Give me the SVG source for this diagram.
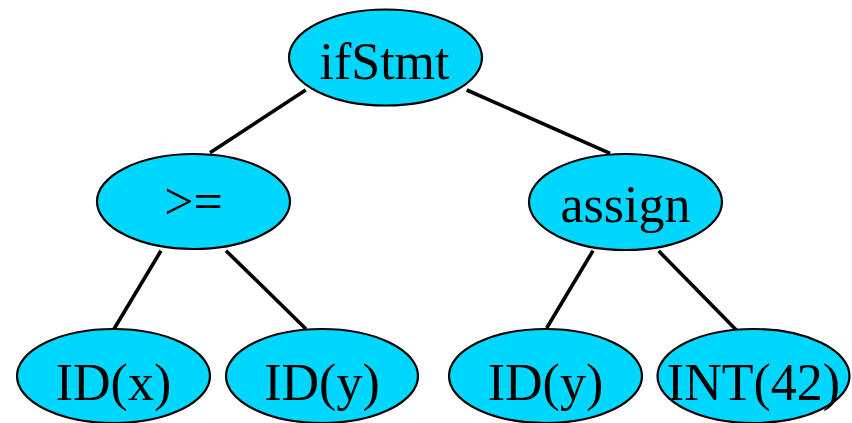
<svg xmlns="http://www.w3.org/2000/svg" width="852" height="423" viewBox="0 0 852 423">
<style>
.n ellipse{fill:#00d7ff;stroke:#000;stroke-width:2.2}
.n text{font-family:"Liberation Serif","Times New Roman",serif;font-size:52px;fill:#000;text-anchor:middle}
#edges line{stroke:#000;stroke-width:3.6;stroke-linecap:butt}
</style>
<rect width="852" height="423" fill="#fff"/>
<g id="edges">
<line x1="305.7" y1="90" x2="210" y2="152.7"/>
<line x1="466.7" y1="90" x2="610" y2="153.3"/>
<line x1="161" y1="250.7" x2="114" y2="329"/>
<line x1="226" y1="250.7" x2="306" y2="329"/>
<line x1="593" y1="250.7" x2="546.7" y2="328"/>
<line x1="658.7" y1="251" x2="738" y2="331.7"/>
</g>
<g id="ifStmt" class="n"><ellipse cx="385.5" cy="57.5" rx="96.5" ry="48"/><text x="384.5" y="79">ifStmt</text></g>
<g id="ge" class="n"><ellipse cx="193.5" cy="201.5" rx="96.5" ry="47.5"/><text x="193.5" y="219">&gt;=</text></g>
<g id="assign" class="n"><ellipse cx="625.5" cy="202" rx="96.5" ry="48"/><text x="625.5" y="221.5">assign</text></g>
<g id="idx" class="n"><ellipse cx="113.5" cy="376" rx="96.5" ry="47"/><text x="113.5" y="400">ID(x)</text></g>
<g id="idy1" class="n"><ellipse cx="322" cy="376" rx="96" ry="47"/><text x="322" y="400">ID(y)</text></g>
<g id="idy2" class="n"><ellipse cx="545.5" cy="376" rx="96.5" ry="47"/><text x="545.5" y="400">ID(y)</text></g>
<g id="int42" class="n"><ellipse cx="753.5" cy="376" rx="96" ry="47"/><text x="753.5" y="400">INT(42)</text></g>
</svg>
